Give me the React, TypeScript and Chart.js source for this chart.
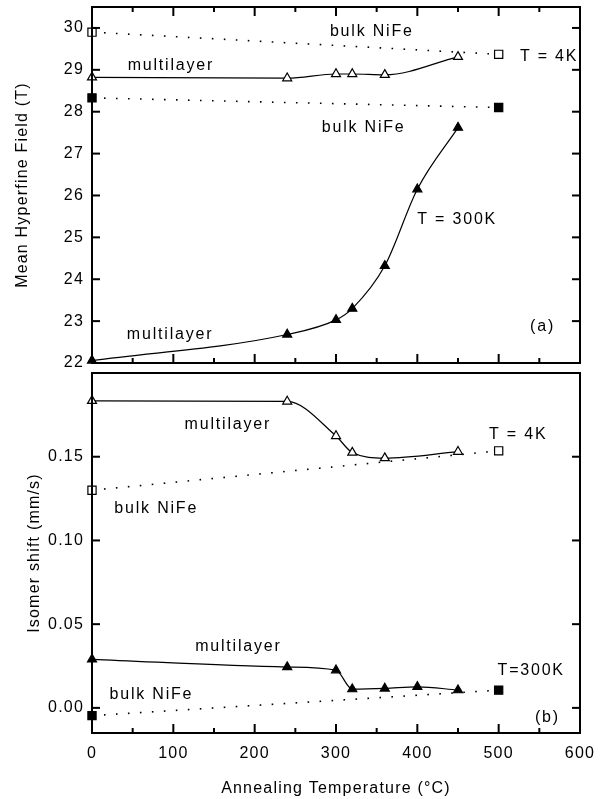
import React, { useEffect, useRef } from "react";
import { Chart, registerables } from "chart.js";

Chart.register(...registerables);

const FONT = "'Liberation Sans', Arial, Helvetica, sans-serif";

// ---------- data: panel (a) mean hyperfine field (T) ----------
const tempsML300A = [0, 240, 300, 320, 360, 400, 450];
const hfML300 = [22.06, 22.68, 23.03, 23.3, 24.32, 26.15, 27.62];
const tempsML4A = [0, 240, 300, 320, 360, 450];
const hfML4 = [28.82, 28.8, 28.9, 28.9, 28.88, 29.31];
const tempsBulk = [0, 500];
const hfBulk4 = [29.9, 29.37];
const hfBulk300 = [28.33, 28.1];

// ---------- data: panel (b) isomer shift (mm/s) ----------
const tempsML4B = [0, 240, 300, 320, 360, 450];
const isML4 = [0.1834, 0.183, 0.1624, 0.1525, 0.1492, 0.153];
const isBulk4 = [0.13, 0.1535];
const tempsML300B = [0, 240, 300, 320, 360, 400, 450];
const isML300 = [0.029, 0.0244, 0.0225, 0.0112, 0.0116, 0.0126, 0.0106];
const isBulk300 = [-0.0046, 0.0106];

// ---------- ticks ----------
const xTicks = [0, 100, 200, 300, 400, 500, 600];
const xMinorTicks = [50, 150, 250, 350, 450, 550];
const hfTicks = [22, 23, 24, 25, 26, 27, 28, 29, 30];
const isTicks = [0, 0.05, 0.1, 0.15];

// ---------- text labels inside the panels (data coordinates) ----------
const labelsA = [
  { text: "bulk NiFe", x: 344, y: 29.91 },
  { text: "multilayer", x: 97, y: 29.11 },
  { text: "T = 4K", x: 562, y: 29.32 },
  { text: "bulk NiFe", x: 334, y: 27.63 },
  { text: "T = 300K", x: 449, y: 25.42 },
  { text: "multilayer", x: 96, y: 22.68 },
  { text: "(a)", x: 554, y: 22.87 },
];
const labelsB = [
  { text: "multilayer", x: 167, y: 0.1694 },
  { text: "T = 4K", x: 524, y: 0.1635 },
  { text: "bulk NiFe", x: 79, y: 0.1193 },
  { text: "multilayer", x: 180, y: 0.0365 },
  { text: "T=300K", x: 540, y: 0.0221 },
  { text: "bulk NiFe", x: 73, y: 0.0077 },
  { text: "(b)", x: 560, y: -0.0056 },
];

const pts = (xs: number[], ys: number[]) => xs.map((x, i) => ({ x, y: ys[i] }));

const noPad = (s: any) => {
  s.paddingTop = 0;
  s.paddingBottom = 0;
  s.paddingLeft = 0;
  s.paddingRight = 0;
};

type FrameOpts = { xTop: boolean; yTicks: number[]; labels: { text: string; x: number; y: number }[] };

const makeFramePlugin = (fo: FrameOpts) => ({
  id: "frame",
  beforeDraw(chart: any) {
    chart.ctx.letterSpacing = "1.2px";
  },
  afterDraw(chart: any) {
    const { ctx, chartArea, scales } = chart;
    const { left, right, top, bottom } = chartArea;
    const xs = scales.x;
    const ys = scales.y;
    ctx.save();
    ctx.setLineDash([]);
    ctx.fillStyle = "#000";
    const xEdge = (edgeY: number, dir: number) => {
      xTicks.forEach((v) => {
        const p = xs.getPixelForValue(v);
        if (p > left + 1 && p < right - 1) {
          ctx.fillRect(p - 1, dir > 0 ? edgeY : edgeY - 9, 2, 9);
        }
      });
      xMinorTicks.forEach((v) => {
        const p = xs.getPixelForValue(v);
        ctx.fillRect(p - 1, dir > 0 ? edgeY : edgeY - 5, 2, 5);
      });
    };
    if (fo.xTop) xEdge(top, 1);
    xEdge(bottom, -1);
    fo.yTicks.forEach((v) => {
      const p = ys.getPixelForValue(v);
      if (p > top + 1 && p < bottom - 1) {
        ctx.fillRect(left, p - 1, 8, 2);
        ctx.fillRect(right - 8, p - 1, 8, 2);
      }
    });
    ctx.strokeStyle = "#000";
    ctx.lineWidth = 2;
    ctx.strokeRect(left, top, right - left, bottom - top);

    ctx.font = `16px ${FONT}`;
    ctx.letterSpacing = "1.8px";
    ctx.textAlign = "center";
    ctx.textBaseline = "middle";
    fo.labels.forEach((l) => {
      ctx.fillText(l.text, xs.getPixelForValue(l.x), ys.getPixelForValue(l.y));
    });
    ctx.restore();
  },
});

const bulkStyle = (filled: boolean) => ({
  showLine: true,
  borderColor: "#000",
  borderWidth: 1.6,
  borderDash: [1.6, 10.4],
  pointStyle: "rect",
  pointRadius: 5.8,
  pointBorderWidth: 1.2,
  pointBorderColor: "#000",
  pointBackgroundColor: filled ? "#000" : "#fff",
  clip: false,
});

const mlStyle = (filled: boolean) => ({
  showLine: true,
  borderColor: "#000",
  borderWidth: 1.2,
  cubicInterpolationMode: "monotone",
  pointStyle: "triangle",
  pointRadius: 5.2,
  pointBorderWidth: 1.2,
  pointBorderColor: "#000",
  pointBackgroundColor: filled ? "#000" : "#fff",
  clip: false,
});

export default function App() {
  const topRef = useRef<HTMLCanvasElement | null>(null);
  const botRef = useRef<HTMLCanvasElement | null>(null);

  useEffect(() => {
    Chart.defaults.font.family = FONT;
    Chart.defaults.color = "#000";

    const top = new Chart(topRef.current as HTMLCanvasElement, {
      type: "line",
      data: {
        datasets: [
          { data: pts(tempsML4A, hfML4), ...mlStyle(false) } as any,
          { data: pts(tempsML300A, hfML300), ...mlStyle(true) } as any,
          { data: pts(tempsBulk, hfBulk4), ...bulkStyle(false) } as any,
          { data: pts(tempsBulk, hfBulk300), ...bulkStyle(true) } as any,
        ],
      },
      options: {
        animation: false,
        responsive: false,
        maintainAspectRatio: false,
        devicePixelRatio: 1,
        layout: { padding: { left: 0, right: 20, top: 6, bottom: 3 } },
        plugins: {
          legend: { display: false },
          tooltip: { enabled: false },
        },
        scales: {
          x: { type: "linear", min: 0, max: 600, display: false },
          y: {
            type: "linear",
            min: 22,
            max: 30.5,
            afterBuildTicks: (s: any) => {
              s.ticks = hfTicks.map((v) => ({ value: v }));
            },
            afterFit: (s: any) => {
              s.width = 92;
              noPad(s);
            },
            ticks: {
              padding: 8,
              color: "#000",
              font: { size: 16 },
              callback: (v: any) => Number(v).toFixed(0),
            },
            grid: { display: false, drawTicks: false },
            border: { display: false },
            title: {
              display: true,
              text: "Mean Hyperfine Field (T)",
              color: "#000",
              font: { size: 16 },
              padding: { top: 13, bottom: 0 },
            },
          },
        },
      },
      plugins: [makeFramePlugin({ xTop: true, yTicks: hfTicks, labels: labelsA }) as any],
    });

    const bot = new Chart(botRef.current as HTMLCanvasElement, {
      type: "line",
      data: {
        datasets: [
          { data: pts(tempsML4B, isML4), ...mlStyle(false) } as any,
          { data: pts(tempsML300B, isML300), ...mlStyle(true) } as any,
          { data: pts(tempsBulk, isBulk4), ...bulkStyle(false) } as any,
          { data: pts(tempsBulk, isBulk300), ...bulkStyle(true) } as any,
        ],
      },
      options: {
        animation: false,
        responsive: false,
        maintainAspectRatio: false,
        devicePixelRatio: 1,
        layout: { padding: { left: 0, right: 20, top: 2, bottom: 0 } },
        plugins: {
          legend: { display: false },
          tooltip: { enabled: false },
        },
        scales: {
          x: {
            type: "linear",
            min: 0,
            max: 600,
            afterBuildTicks: (s: any) => {
              s.ticks = xTicks.map((v) => ({ value: v }));
            },
            afterFit: (s: any) => {
              s.height = 66;
              noPad(s);
            },
            ticks: {
              padding: 11,
              color: "#000",
              font: { size: 16 },
              maxRotation: 0,
              callback: (v: any) => String(v),
            },
            grid: { display: false, drawTicks: false },
            border: { display: false },
            title: {
              display: true,
              text: "Annealing Temperature (°C)",
              color: "#000",
              font: { size: 16 },
              padding: { top: 0, bottom: 1 },
            },
          },
          y: {
            type: "linear",
            min: -0.015,
            max: 0.2,
            afterBuildTicks: (s: any) => {
              s.ticks = isTicks.map((v) => ({ value: v }));
            },
            afterFit: (s: any) => {
              s.width = 92;
              noPad(s);
            },
            ticks: {
              padding: 8,
              color: "#000",
              font: { size: 16 },
              callback: (v: any) => Number(v).toFixed(2),
            },
            grid: { display: false, drawTicks: false },
            border: { display: false },
            title: {
              display: true,
              text: "Isomer shift (mm/s)",
              color: "#000",
              font: { size: 16 },
              padding: { top: 25, bottom: 0 },
            },
          },
        },
      },
      plugins: [makeFramePlugin({ xTop: false, yTicks: isTicks, labels: labelsB }) as any],
    });

    return () => {
      top.destroy();
      bot.destroy();
    };
  }, []);

  return (
    <div style={{ position: "absolute", left: 0, top: 0, width: 600, height: 799, background: "#fff" }}>
      <canvas
        ref={topRef}
        width={600}
        height={370}
        style={{ position: "absolute", left: 0, top: 0, width: 600, height: 370 }}
      />
      <canvas
        ref={botRef}
        width={600}
        height={433}
        style={{ position: "absolute", left: 0, top: 366, width: 600, height: 433 }}
      />
    </div>
  );
}
